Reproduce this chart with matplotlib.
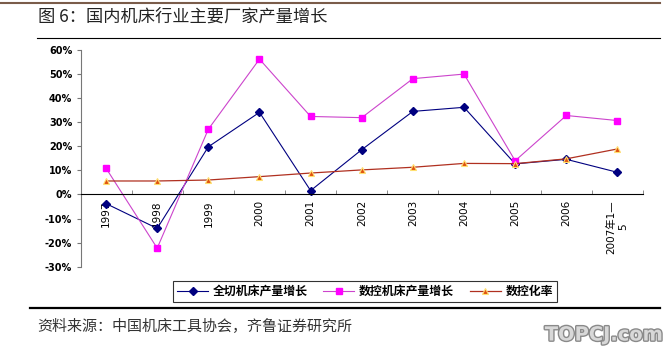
import matplotlib
matplotlib.use("Agg")
import matplotlib.pyplot as plt
import matplotlib.patheffects as pe
import numpy as np

plt.rcParams['font.family'] = ['Noto Sans CJK SC', 'DejaVu Sans']

years = ["1997", "1998", "1999", "2000", "2001", "2002",
         "2003", "2004", "2005", "2006", "2007年1—\n5"]
full_cut = [-3.8, -14.1, 19.8, 34.1, 1.6, 18.6, 34.5, 36.2, 12.7, 14.6, 9.2]
nc_growth = [10.9, -22.3, 27.1, 56.2, 32.4, 31.9, 48.1, 50.0, 14.0, 32.8, 30.7]
nc_rate = [5.6, 5.6, 6.0, 7.4, 8.9, 10.2, 11.3, 12.9, 12.8, 14.8, 18.9]
yticks = [-30, -20, -10, 0, 10, 20, 30, 40, 50, 60]

W, H = 671, 356
fig = plt.figure(figsize=(W / 100, H / 100), dpi=100)

# header / footer rules
fig.add_artist(plt.Line2D([0, 660 / W], [1 - 2.5 / H] * 2, color="#7a5c4a", lw=1.5))
fig.add_artist(plt.Line2D([37 / W, 660 / W], [1 - 38 / H] * 2, color="black", lw=0.8))
fig.add_artist(plt.Line2D([30 / W, 660 / W], [1 - 308 / H] * 2, color="black", lw=1.6))

fig.text(38 / W, 1 - 17 / H, "图 6：国内机床行业主要厂家产量增长", fontsize=12.4,
         va="center", ha="left", color="#222222")
fig.text(37 / W, 1 - 327 / H, "资料来源：中国机床工具协会，齐鲁证券研究所", fontsize=10.8,
         va="center", ha="left", color="#333333")
fig.text(604 / W, 1 - 335 / H, "TOPCJ.com", fontsize=14, fontweight="bold",
         family="DejaVu Sans", va="center", ha="center", color="#d8d8d8",
         path_effects=[pe.withStroke(linewidth=2, foreground="#8a8a8a")])

ax = fig.add_axes([80.5 / W, 1 - 266.7 / H, (643 - 80.5) / W, (266.7 - 50) / H])
x = np.arange(len(years))

ax.plot(x, full_cut, color="#000080", lw=0.8, marker="D", ms=4,
        mfc="#000080", mec="#000080", label="全切机床产量增长")
ax.plot(x, nc_growth, color="#cc44cc", lw=0.8, marker="s", ms=5,
        mfc="#ff00ff", mec="#ff00ff", label="数控机床产量增长")
ax.plot(x, nc_rate, color="#b03020", lw=0.9, marker="^", ms=5,
        mfc="#e05010", mec="#ffe070", mew=0.8, label="数控化率")

ax.set_xlim(-0.5, len(years) - 0.5)
ax.set_ylim(-30, 60)
ax.set_yticks(yticks)
ax.set_yticklabels([f"{v}%" for v in yticks], fontsize=7, fontweight="bold",
                   family="DejaVu Sans")
ax.tick_params(axis="y", direction="out", length=3, color="#777777", pad=3)

ax.spines["top"].set_visible(False)
ax.spines["right"].set_visible(False)
ax.spines["left"].set_color("#777777")
ax.spines["bottom"].set_position(("data", 0))
ax.spines["bottom"].set_color("black")

ax.set_xticks(x)
ax.set_xticklabels(years, rotation=90, fontsize=7.5, va="top", ha="center",
                   family=["DejaVu Sans", "Noto Sans CJK SC"])
ax.tick_params(axis="x", which="major", length=0, pad=4)
ax.set_xticks(np.arange(-0.5, len(years)), minor=True)
ax.tick_params(axis="x", which="minor", direction="in", length=3, color="#777777")

leg = fig.legend(loc="center", bbox_to_anchor=(365 / W, 1 - 291.5 / H), ncol=3,
                 frameon=True, fancybox=False, borderpad=0.3,
                 handlelength=2.6, columnspacing=1.3, handletextpad=0.4,
                 prop={"weight": "bold", "size": 8.6})
leg.get_frame().set_edgecolor("black")
leg.get_frame().set_linewidth(0.8)

fig.savefig("out.png", dpi=100)
